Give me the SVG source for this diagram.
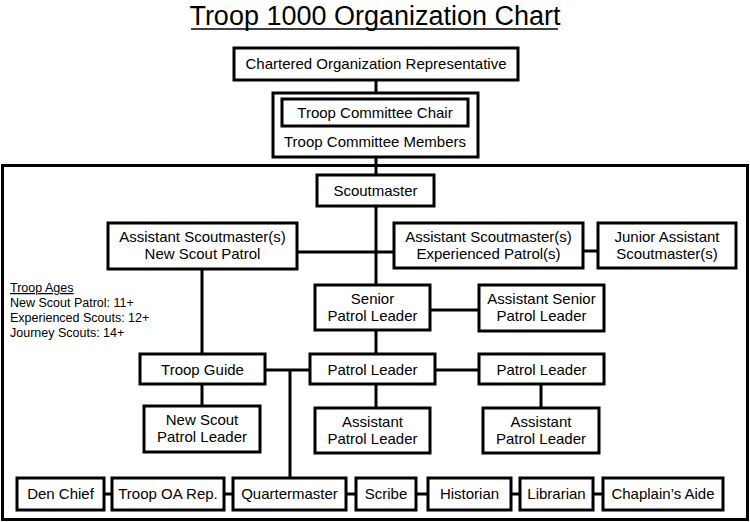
<svg xmlns="http://www.w3.org/2000/svg" width="750" height="522" viewBox="0 0 750 522">
<style>
.b{fill:#fff;stroke:#000;stroke-width:3}
.c{stroke:#000;stroke-width:3;fill:none}
text{font-family:"Liberation Sans",Arial,sans-serif;font-size:15px;fill:#000;text-anchor:middle}
.s{font-size:12.5px;text-anchor:start}
.t{font-size:27px}
</style>
<rect width="750" height="522" fill="#fff"/>
<g id="title"><text class="t" x="375" y="25">Troop 1000 Organization Chart</text><line x1="191" y1="29" x2="558" y2="29" stroke="#000" stroke-width="1.5"/></g>
<g id="frame"><rect class="b" x="2.5" y="165.5" width="745" height="354" fill="none"/></g>
<g id="connectors">
<path class="c" d="M376 80V93M376 157V175M376 206V285M297 252H394M583 251H598M376 330V354M430 310H479M202 269V354M265 370H310M290 370V478M202 384V406M376 384V408M435 370H479M541 384V408M104 494H112M224 494H233M346 494H356M416 494H428M511 494H520M593 494H603"/>
</g>
<g id="cor"><rect class="b" x="234" y="48" width="284" height="32"/><text x="376" y="69">Chartered Organization Representative</text></g>
<g id="committee"><rect class="b" x="273" y="93" width="205" height="64"/><rect class="b" x="282" y="99" width="186" height="27"/><text x="375" y="118">Troop Committee Chair</text><text x="375" y="147">Troop Committee Members</text></g>
<g id="sm"><rect class="b" x="317" y="175" width="117" height="31"/><text x="375.5" y="196">Scoutmaster</text></g>
<g id="asm-new"><rect class="b" x="108" y="223" width="189" height="46"/><text x="202.5" y="242">Assistant Scoutmaster(s)</text><text x="202.5" y="259">New Scout Patrol</text></g>
<g id="asm-exp"><rect class="b" x="394" y="223" width="189" height="45"/><text x="488.5" y="242">Assistant Scoutmaster(s)</text><text x="488.5" y="259">Experienced Patrol(s)</text></g>
<g id="jasm"><rect class="b" x="598" y="223" width="138" height="45"/><text x="667" y="242">Junior Assistant</text><text x="667" y="259">Scoutmaster(s)</text></g>
<g id="spl"><rect class="b" x="315" y="285" width="115" height="45"/><text x="372.5" y="304">Senior</text><text x="372.5" y="321">Patrol Leader</text></g>
<g id="aspl"><rect class="b" x="479" y="285" width="125" height="46"/><text x="541.5" y="304">Assistant Senior</text><text x="541.5" y="321">Patrol Leader</text></g>
<g id="ages"><text class="s" x="10" y="292" text-decoration="underline">Troop Ages</text><text class="s" x="10" y="307">New Scout Patrol: 11+</text><text class="s" x="10" y="322">Experienced Scouts: 12+</text><text class="s" x="10" y="337">Journey Scouts: 14+</text></g>
<g id="tg"><rect class="b" x="140" y="354" width="125" height="30"/><text x="202.5" y="374.5">Troop Guide</text></g>
<g id="pl1"><rect class="b" x="310" y="354" width="125" height="30"/><text x="372.5" y="374.5">Patrol Leader</text></g>
<g id="pl2"><rect class="b" x="479" y="354" width="125" height="30"/><text x="541.5" y="374.5">Patrol Leader</text></g>
<g id="nspl"><rect class="b" x="144" y="406" width="116" height="46"/><text x="202" y="425">New Scout</text><text x="202" y="442">Patrol Leader</text></g>
<g id="apl1"><rect class="b" x="315" y="408" width="115" height="45"/><text x="372.5" y="427">Assistant</text><text x="372.5" y="444">Patrol Leader</text></g>
<g id="apl2"><rect class="b" x="483" y="408" width="116" height="45"/><text x="541" y="427">Assistant</text><text x="541" y="444">Patrol Leader</text></g>
<g id="den"><rect class="b" x="17" y="478" width="87" height="32"/><text x="60.5" y="499">Den Chief</text></g>
<g id="oa"><rect class="b" x="112" y="478" width="112" height="32"/><text x="168" y="499">Troop OA Rep.</text></g>
<g id="qm"><rect class="b" x="233" y="478" width="113" height="32"/><text x="289.5" y="499">Quartermaster</text></g>
<g id="scribe"><rect class="b" x="356" y="478" width="60" height="32"/><text x="386" y="499">Scribe</text></g>
<g id="hist"><rect class="b" x="428" y="478" width="83" height="32"/><text x="469.5" y="499">Historian</text></g>
<g id="lib"><rect class="b" x="520" y="478" width="73" height="32"/><text x="556.5" y="499">Librarian</text></g>
<g id="chap"><rect class="b" x="603" y="478" width="120" height="32"/><text x="663" y="499">Chaplain’s Aide</text></g>
</svg>
